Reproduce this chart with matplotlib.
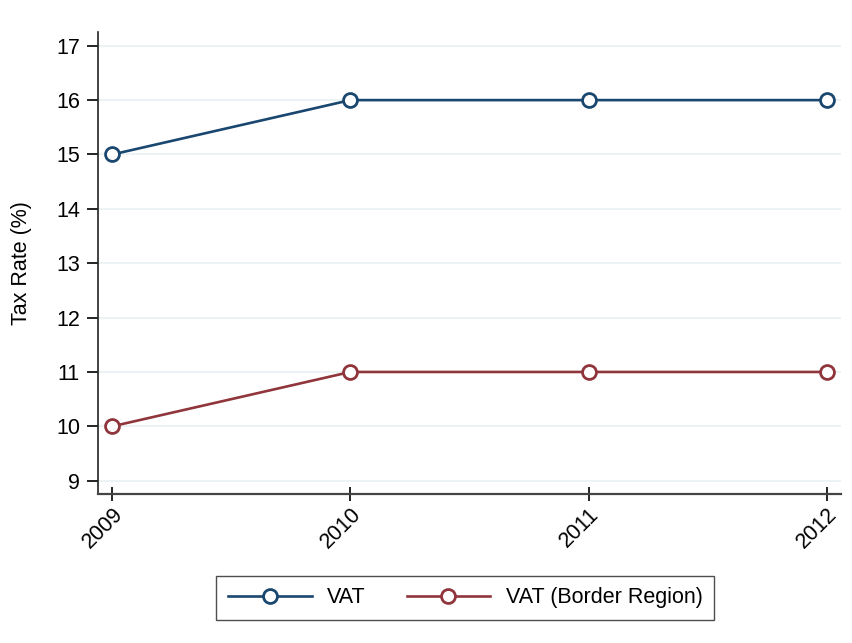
import matplotlib
matplotlib.use("Agg")
import matplotlib.pyplot as plt

plt.rcParams['font.family'] = ['Liberation Sans', 'DejaVu Sans']

years = [2009, 2010, 2011, 2012]
vat = [15, 16, 16, 16]
vat_border = [10, 11, 11, 11]
yticks = list(range(9, 18))

navy = '#1a476f'
maroon = '#90353b'

fig = plt.figure(figsize=(8.52, 6.43), dpi=100)
ax = fig.add_axes([0.115, 0.2317, 0.872, 0.7183])

style = dict(lw=1.9, marker='o', ms=10, mfc='white', mew=2.0)
ax.plot(years, vat, color=navy, label='VAT', **style)
ax.plot(years, vat_border, color=maroon, label='VAT (Border Region)', **style)

ax.set_xlim(2008.94, 2012.06)
ax.set_ylim(8.755, 17.25)
ax.set_yticks(yticks)
ax.set_xticks(years)
ax.set_xticklabels([str(y) for y in years], rotation=45, ha='right',
                   rotation_mode='anchor')
ax.grid(axis='y', color='#eaf2f3', lw=1.3)
ax.set_axisbelow(True)

for s in ('top', 'right'):
    ax.spines[s].set_visible(False)
ax.spines['left'].set_color('#222222')
ax.spines['bottom'].set_color('#444444')
ax.spines['left'].set_linewidth(1.2)
ax.spines['bottom'].set_linewidth(1.6)
ax.tick_params(axis='y', direction='out', length=8, width=1.2,
               labelsize=15.5, pad=5)
ax.tick_params(axis='x', direction='inout', length=10, width=1.2,
               labelsize=15.5, pad=2)
ax.set_ylabel('Tax Rate (%)', fontsize=15.5, labelpad=17)

leg = fig.legend(loc='center', bbox_to_anchor=(0.546, 0.070), ncol=2,
                 fontsize=15.5, frameon=True, fancybox=False,
                 handlelength=3.9, columnspacing=1.9, handletextpad=0.7,
                 borderpad=0.55)
leg.get_frame().set_edgecolor('#222222')
leg.get_frame().set_linewidth(1.0)

fig.savefig('out.png', dpi=100)
